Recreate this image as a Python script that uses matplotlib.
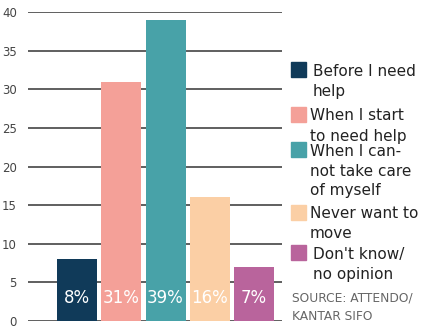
import numpy as np
import matplotlib.pyplot as plt
from matplotlib.patches import Rectangle

# data
categories = ["Before I need\nhelp", "When I start\nto need help",
              "When I can-\nnot take care\nof myself", "Never want to\nmove",
              "Don't know/\nno opinion"]
values = [8, 31, 39, 16, 7]
bar_labels = ["8%", "31%", "39%", "16%", "7%"]
colors = ["#103a59", "#f4a098", "#48a2a8", "#fbcfa5", "#b9649c"]
yticks = [0, 5, 10, 15, 20, 25, 30, 35, 40]
source = "SOURCE: ATTENDO/\nKANTAR SIFO"

plt.rcParams['font.family'] = ['DejaVu Sans']

W, H = 421, 329
fig = plt.figure(figsize=(W / 100, H / 100), dpi=100)
ax = fig.add_axes([28 / W, 8 / H, (282 - 28) / W, (321 - 12) / H])

x = np.arange(len(values))
ax.bar(x, values, width=0.905, color=colors, zorder=2)
for xi, lab in zip(x, bar_labels):
    ax.text(xi, 3.0, lab, color='white', ha='center', va='center', fontsize=12, zorder=3)

ax.set_xlim(-1.107, 4.63)
ax.set_ylim(0, 40)
ax.set_yticks(yticks)
ax.tick_params(axis='y', length=0, labelsize=8.5, labelcolor='#444444', pad=8)
ax.set_xticks([])
ax.yaxis.grid(True, color='#444444', linewidth=1.2, zorder=0)
ax.set_axisbelow(True)
for s in ax.spines.values():
    s.set_visible(False)

# legend drawn by hand
sq_tops = [62, 107, 142, 205, 245]
text_x = [313, 310, 310, 310, 313]
for i, (lab, c) in enumerate(zip(categories, colors)):
    fig.patches.append(Rectangle((291 / W, 1 - (sq_tops[i] + 15) / H), 15 / W, 15 / H,
                                 transform=fig.transFigure, color=c, figure=fig))
    for j, line in enumerate(lab.split("\n")):
        fig.text(text_x[i] / W, 1 - (sq_tops[i] + 9 + 20 * j) / H, line,
                 ha='left', va='center', fontsize=11, color='#222222')
for j, line in enumerate(source.split("\n")):
    fig.text(292 / W, 1 - (298 + 19 * j) / H, line, ha='left', va='center',
             fontsize=8.8, color='#666666')

fig.savefig("out.png", dpi=100)
